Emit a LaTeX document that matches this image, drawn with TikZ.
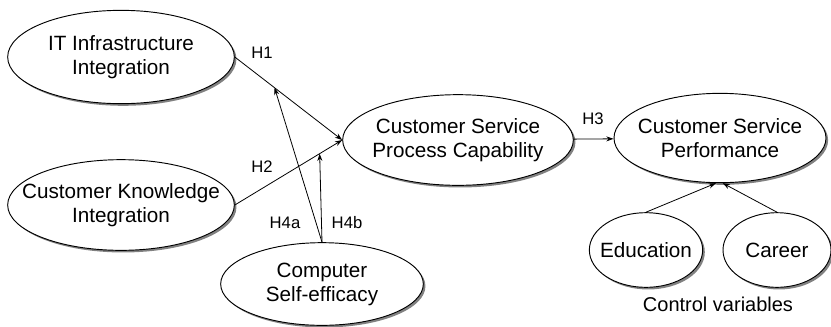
\documentclass[tikz,border=0pt]{standalone}
\usepackage{fontspec}
\setmainfont{Liberation Sans}
\usetikzlibrary{positioning, calc, arrows.meta, shapes.geometric, shadows}

\begin{document}
\begin{tikzpicture}[x=0.75pt,y=-0.75pt,>=Stealth,
    construct/.style={ellipse,draw,line width=0.7pt,fill=white,align=center,inner xsep=-15pt,inner ysep=0pt,
        font=\fontsize{15.5}{18}\selectfont,
        drop shadow={shadow xshift=1.6pt,shadow yshift=-1.6pt,fill=black!70,opacity=0.7}},
    hyp/.style={font=\fontsize{12.5}{14}\selectfont,inner sep=1pt},
    path/.style={->,line width=0.6pt,{>={Stealth[length=5.5pt,width=3.8pt]}}}]
    \useasboundingbox (0,0) rectangle (831,326);

    % \node [construct] (gender) {Gender};
    \node [construct,minimum width=170pt,minimum height=70pt] (itinfra) at (121,57) {IT Infrastructure\\Integration};
    \node [construct,minimum width=170pt,minimum height=68pt] (custknow) at (121,205) {Customer Knowledge\\Integration};
    \node [construct,minimum width=173pt,minimum height=68pt] (csprocess) at (458,140) {Customer Service\\Process Capability};
    \node [construct,minimum width=159pt,minimum height=67pt] (csperf) at (720,138) {Customer Service\\Performance};
    \node [construct,minimum width=152pt,minimum height=62pt] (selfeff) at (322,284) {Computer\\Self-efficacy};
    \node [construct,minimum width=85pt,minimum height=56pt] (education) at (646,250) {Education};
    \node [construct,minimum width=81pt,minimum height=56pt] (career) at (777,250) {Career};
    \node [below = 3pt of education.south, xshift=54pt, font=\fontsize{15}{17}\selectfont] (controlvars) {Control variables};

    \coordinate (h1mid) at ($(itinfra.east)!0.37!(csprocess.west)$);
    \coordinate (h2mid) at ($(custknow.east)!0.79!(csprocess.west)$);

    \draw [path] (itinfra.east) -- (csprocess.west);
    \draw [path] (custknow.east) -- (csprocess.west);
    \draw [path] (csprocess) -- (csperf);
    \draw [path] (selfeff.north) -- (h1mid);
    \draw [path] (selfeff.north) -- (h2mid);
    \draw [path] (education.north) -- ([xshift=-3pt]csperf.south);
    \draw [path] (career.north) -- ([xshift=2pt]csperf.south);

    \node [hyp] (h1) at (262,53) {H1};
    \node [hyp] (h2) at (262,167) {H2};
    \node [hyp] (h3) at (593,119) {H3};
    \node [hyp] (h4a) at (285,223) {H4a};
    \node [hyp] (h4b) at (347,223) {H4b};
\end{tikzpicture}
\end{document}
